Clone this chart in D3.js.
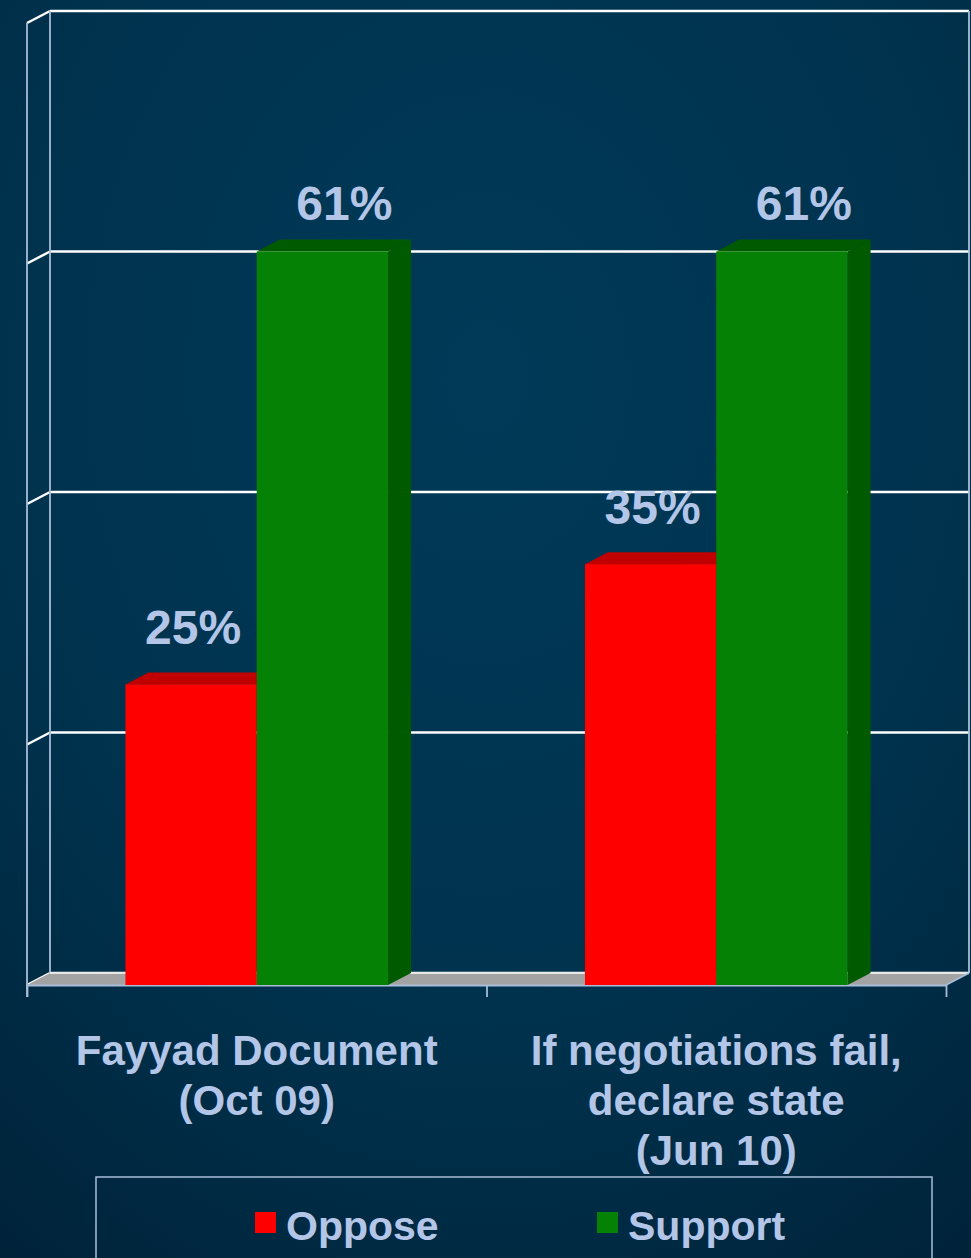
<!DOCTYPE html>
<html>
<head>
<meta charset="utf-8">
<script src="https://cdn.jsdelivr.net/npm/d3@7"></script>
<style>
  html, body { margin: 0; padding: 0; background: #00314b; }
  svg { display: block; }
</style>
</head>
<body>
<div id="chart"></div>
<script>
// Chart data
var categories = [["Fayyad Document", "(Oct 09)"], ["If negotiations fail,", "declare state", "(Jun 10)"]];
var seriesNames = ["Oppose", "Support"];
var oppose = [25, 35];
var support = [61, 61];
var yTicks = [0, 20, 40, 60, 80];

var colors = { Oppose: "#ff0000", Support: "#058205" };
var darkColors = { Oppose: "#c00000", Support: "#005a00" };
var textColor = "#b4c6e7";

function draw() {
  "use strict";
  var width = 971,
      height = 1258,
      left = 27,
      right = 946,
      floorY = 985,
      dx = 23,
      dy = -12;

  var svg = d3.select("#chart")
              .append("svg")
              .attr("width", width)
              .attr("height", height);

  // Background gradient
  var defs = svg.append("defs");
  var grad = defs.append("radialGradient")
                 .attr("id", "bg")
                 .attr("cx", "50%").attr("cy", "30%").attr("r", "85%");
  grad.append("stop").attr("offset", "0%").attr("stop-color", "#003a58");
  grad.append("stop").attr("offset", "60%").attr("stop-color", "#00324d");
  grad.append("stop").attr("offset", "100%").attr("stop-color", "#00233a");

  svg.append("rect")
     .attr("width", width)
     .attr("height", height)
     .attr("fill", "url(#bg)");

  // Scales (front plane)
  var yScale = d3.scaleLinear()
                 .domain([0, 80])
                 .range([floorY, floorY - 962]);

  var x0 = d3.scaleBand()
             .domain(d3.range(categories.length))
             .range([left, right])
             .padding(0);

  var x1 = d3.scaleBand()
             .domain(seriesNames)
             .range([0, x0.bandwidth()])
             .paddingInner(0)
             .paddingOuter(0.75);

  var wallColor = "#a9bdd9";

  // Back wall gridlines and left wall diagonals
  var grid = svg.append("g").attr("class", "grid");
  grid.selectAll("line.back")
      .data(yTicks)
      .enter()
      .append("line")
      .attr("x1", left + dx)
      .attr("x2", right + dx)
      .attr("y1", function(d) { return yScale(d) + dy; })
      .attr("y2", function(d) { return yScale(d) + dy; })
      .attr("stroke", "#ffffff")
      .attr("stroke-width", 2.5);

  grid.selectAll("line.side")
      .data(yTicks)
      .enter()
      .append("line")
      .attr("x1", left)
      .attr("x2", left + dx)
      .attr("y1", function(d) { return yScale(d); })
      .attr("y2", function(d) { return yScale(d) + dy; })
      .attr("stroke", "#ffffff")
      .attr("stroke-width", 2.5);

  // Wall edges
  grid.append("line")
      .attr("x1", left + dx).attr("x2", left + dx)
      .attr("y1", yScale(80) + dy).attr("y2", yScale(0) + dy)
      .attr("stroke", wallColor).attr("stroke-width", 1.8);
  grid.append("line")
      .attr("x1", left).attr("x2", left)
      .attr("y1", yScale(80)).attr("y2", yScale(0) + 12)
      .attr("stroke", wallColor).attr("stroke-width", 1.8);
  grid.append("line")
      .attr("x1", right + dx).attr("x2", right + dx)
      .attr("y1", yScale(80) + dy).attr("y2", yScale(0) + dy)
      .attr("stroke", wallColor).attr("stroke-width", 1.8);

  // Floor
  var f = yScale(0);
  svg.append("path")
     .attr("d", "M" + left + "," + f + "L" + right + "," + f +
                "L" + (right + dx) + "," + (f + dy) + "L" + (left + dx) + "," + (f + dy) + "Z")
     .attr("fill", "#a3a3a3");
  svg.append("line")
     .attr("x1", left + dx).attr("x2", right + dx)
     .attr("y1", f + dy).attr("y2", f + dy)
     .attr("stroke", "#e8e8e8").attr("stroke-width", 2);
  svg.append("line")
     .attr("x1", right).attr("x2", right + dx)
     .attr("y1", f).attr("y2", f + dy)
     .attr("stroke", wallColor).attr("stroke-width", 1.8);

  // Category axis
  var xAxis = d3.axisBottom(d3.scaleLinear().domain([0, categories.length]).range([left, right]))
                .tickValues(d3.range(categories.length + 1))
                .tickFormat("")
                .tickSizeInner(12)
                .tickSizeOuter(0);
  var axisG = svg.append("g")
                 .attr("class", "x-axis")
                 .attr("transform", "translate(0," + f + ")")
                 .call(xAxis);
  axisG.selectAll("path, line").attr("stroke", wallColor).attr("stroke-width", 1.8);

  // Bars
  var rows = [];
  categories.forEach(function(c, i) {
    rows.push({ cat: i, series: "Oppose", value: oppose[i] });
    rows.push({ cat: i, series: "Support", value: support[i] });
  });

  var bars = svg.append("g").attr("id", "bars")
                .selectAll("g")
                .data(rows)
                .enter()
                .append("g");

  bars.each(function(d) {
    var g = d3.select(this),
        xa = x0(d.cat) + x1(d.series),
        xb = xa + x1.bandwidth(),
        top = yScale(d.value),
        bottom = yScale(0);
    // side face
    g.append("path")
     .attr("d", "M" + xb + "," + top + "L" + (xb + dx) + "," + (top + dy) +
                "L" + (xb + dx) + "," + (bottom + dy) + "L" + xb + "," + bottom + "Z")
     .attr("fill", darkColors[d.series]);
    // top face
    g.append("path")
     .attr("d", "M" + xa + "," + top + "L" + xb + "," + top +
                "L" + (xb + dx) + "," + (top + dy) + "L" + (xa + dx) + "," + (top + dy) + "Z")
     .attr("fill", darkColors[d.series]);
    // front face
    g.append("rect")
     .attr("x", xa)
     .attr("y", top)
     .attr("width", xb - xa)
     .attr("height", bottom - top)
     .attr("fill", colors[d.series]);
  });

  // Value labels (offsets per series, as placed in the original)
  var labelDx = { Oppose: 2, Support: 22 },
      labelDy = { Oppose: -40, Support: -31 };
  svg.append("g").attr("id", "labels")
     .selectAll("text")
     .data(rows)
     .enter()
     .append("text")
     .attr("x", function(d) { return x0(d.cat) + x1(d.series) + x1.bandwidth() / 2 + labelDx[d.series]; })
     .attr("y", function(d) { return yScale(d.value) + labelDy[d.series]; })
     .attr("text-anchor", "middle")
     .attr("font-family", "Liberation Sans, Arial, sans-serif")
     .attr("font-weight", "bold")
     .attr("font-size", 48)
     .attr("fill", textColor)
     .text(function(d) { return d.value + "%"; });

  // Category labels
  var catG = svg.append("g").attr("id", "categories")
                .selectAll("text")
                .data(categories)
                .enter()
                .append("text")
                .attr("x", function(d, i) { return x0(i) + x0.bandwidth() / 2; })
                .attr("y", 1065)
                .attr("text-anchor", "middle")
                .attr("font-family", "Liberation Sans, Arial, sans-serif")
                .attr("font-weight", "bold")
                .attr("font-size", 42)
                .attr("fill", textColor);
  catG.selectAll("tspan")
      .data(function(d) { return d; })
      .enter()
      .append("tspan")
      .attr("x", function() { return d3.select(this.parentNode).attr("x"); })
      .attr("dy", function(d, i) { return i === 0 ? 0 : 50; })
      .text(function(d) { return d; });

  // Legend
  var legend = svg.append("g").attr("id", "legend");
  legend.append("rect")
        .attr("x", 96)
        .attr("y", 1177)
        .attr("width", 836)
        .attr("height", 120)
        .attr("fill", "none")
        .attr("stroke", wallColor)
        .attr("stroke-width", 1.5);

  var legendX = d3.scalePoint().domain(seriesNames).range([255, 597]);
  var items = legend.selectAll("g.item")
                    .data(seriesNames)
                    .enter()
                    .append("g")
                    .attr("transform", function(d) { return "translate(" + legendX(d) + ",1212)"; });
  items.append("rect")
       .attr("width", 21)
       .attr("height", 21)
       .attr("fill", function(d) { return colors[d]; });
  items.append("text")
       .attr("x", 31)
       .attr("y", 28)
       .attr("font-family", "Liberation Sans, Arial, sans-serif")
       .attr("font-weight", "bold")
       .attr("font-size", 41)
       .attr("fill", textColor)
       .text(function(d) { return d; });
}

draw();
</script>
</body>
</html>
